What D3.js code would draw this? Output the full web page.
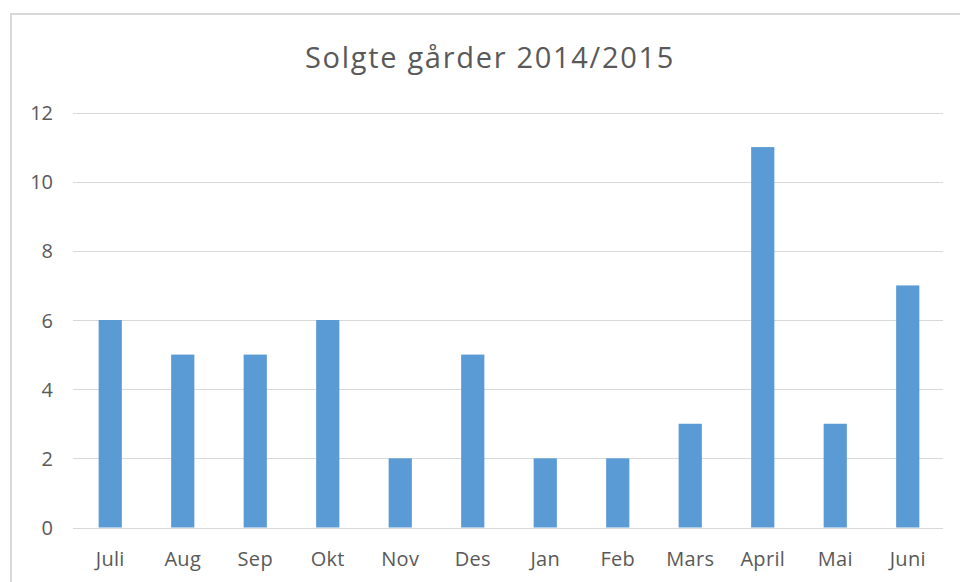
<html lang="en"><head>
<meta http-equiv="Content-Type" content="text/html; charset=UTF-8">
<title>Solgte gårder</title>
<script type="text/javascript" src="https://cdn.jsdelivr.net/npm/d3@7"></script>
<style type="text/css">
body { margin: 0; background: #fff; }
text { font-family: "Open Sans", "Liberation Sans", sans-serif; fill: #595959; }
</style>
</head>
<body>
<div id="chart"></div>
<script type="text/javascript">

var months = ["Juli", "Aug", "Sep", "Okt", "Nov", "Des", "Jan", "Feb", "Mars", "April", "Mai", "Juni"];
var sold = [6, 5, 5, 6, 2, 5, 2, 2, 3, 11, 3, 7];
var yTicks = [0, 2, 4, 6, 8, 10, 12];

var width = 960;
var height = 582;
var plotLeft = 73, plotRight = 943, plotTop = 112.5, plotBottom = 527.5;

var svg = d3.select("#chart").append("svg")
        .attr("width", width)
        .attr("height", height);

// chart area frame (runs off the right and bottom edge)
svg.append("rect")
        .attr("x", 11)
        .attr("y", 14)
        .attr("width", 980)
        .attr("height", 600)
        .attr("fill", "none")
        .attr("stroke", "#d9d9d9")
        .attr("stroke-width", 2);

var x = d3.scaleBand().domain(months).range([plotLeft, plotRight]).paddingInner(0.68).paddingOuter(0.34);
var y = d3.scaleLinear().domain([0, 12]).range([plotBottom, plotTop]);

svg.append("text")
        .attr("x", 490)
        .attr("y", 68)
        .attr("text-anchor", "middle")
        .style("font-size", "29px")
        .style("letter-spacing", "1.7px")
        .text("Solgte gårder 2014/2015");

// grid
svg.selectAll("line.grid").data(yTicks).enter().append("line")
        .attr("class", "grid")
        .attr("x1", plotLeft)
        .attr("x2", plotRight)
        .attr("y1", function (d) { return Math.round(y(d)) + 0.5; })
        .attr("y2", function (d) { return Math.round(y(d)) + 0.5; })
        .attr("stroke", "#d9d9d9")
        .attr("stroke-width", 1);

svg.selectAll("text.ytick").data(yTicks).enter().append("text")
        .attr("class", "ytick")
        .attr("x", 53)
        .attr("y", function (d) { return y(d) + 7.5; })
        .attr("text-anchor", "end")
        .style("font-size", "20px")
        .text(function (d) { return d; });

svg.selectAll("rect.bar").data(sold).enter().append("rect")
        .attr("class", "bar")
        .attr("x", function (d, i) { return x(months[i]) + 1; })
        .attr("width", x.bandwidth())
        .attr("y", function (d) { return y(d); })
        .attr("height", function (d) { return y(0) - y(d); })
        .attr("fill", "#5b9bd5");

svg.selectAll("text.xtick").data(months).enter().append("text")
        .attr("class", "xtick")
        .attr("x", function (d) { return x(d) + x.bandwidth() / 2 + 1; })
        .attr("y", 566)
        .attr("text-anchor", "middle")
        .style("font-size", "20px")
        .style("letter-spacing", "0.3px")
        .text(function (d) { return d; });

</script>
</body></html>
